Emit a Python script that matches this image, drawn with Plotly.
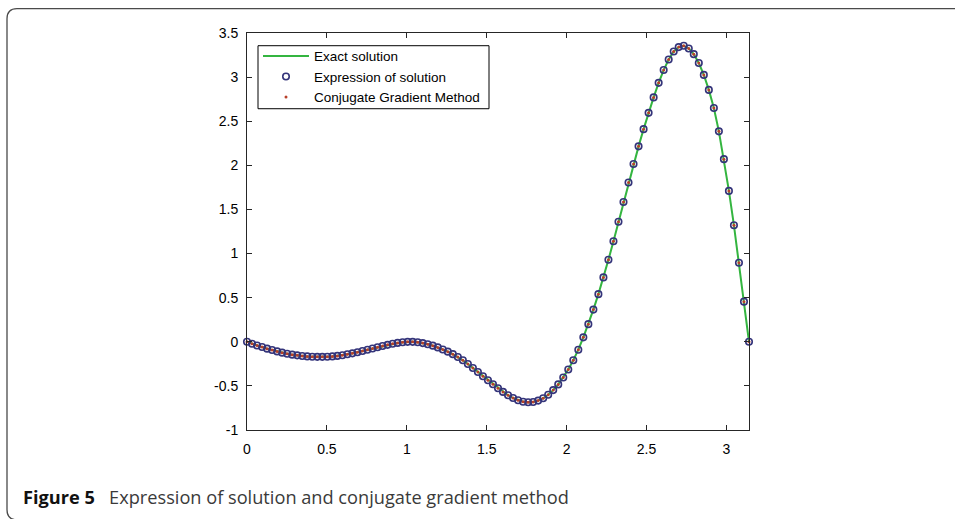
import numpy as np
import plotly.graph_objects as go

# ---- data ----
x_vals = np.linspace(0, np.pi, 101)
u_vals = [
    0.000, -0.023, -0.042, -0.060, -0.078, -0.094, -0.109, -0.123, -0.135, -0.146,
    -0.154, -0.161, -0.166, -0.169, -0.171, -0.171, -0.170, -0.166, -0.160, -0.152,
    -0.142, -0.131, -0.118, -0.105, -0.091, -0.076, -0.062, -0.048, -0.035, -0.023,
    -0.013, -0.005, -0.001, -0.001, -0.006, -0.015, -0.028, -0.044, -0.064, -0.087,
    -0.112, -0.140, -0.172, -0.210, -0.252, -0.297, -0.343, -0.390, -0.436, -0.481,
    -0.526, -0.568, -0.606, -0.638, -0.663, -0.679, -0.686, -0.682, -0.667, -0.640,
    -0.601, -0.548, -0.483, -0.405, -0.315, -0.210, -0.090, 0.050, 0.200, 0.365,
    0.540, 0.730, 0.930, 1.140, 1.360, 1.585, 1.805, 2.015, 2.215, 2.410,
    2.595, 2.770, 2.935, 3.080, 3.200, 3.290, 3.340, 3.355, 3.325, 3.260,
    3.160, 3.025, 2.855, 2.650, 2.385, 2.070, 1.710, 1.320, 0.895, 0.455,
    0.000,
]
series_names = ["Exact solution", "Expression of solution", "Conjugate Gradient Method"]
x_ticks = [0, 0.5, 1, 1.5, 2, 2.5, 3]
x_ticktext = ["0", "0.5", "1", "1.5", "2", "2.5", "3"]
y_ticks = [-1, -0.5, 0, 0.5, 1, 1.5, 2, 2.5, 3, 3.5]
y_ticktext = ["-1", "-0.5", "0", "0.5", "1", "1.5", "2", "2.5", "3", "3.5"]
caption_bold = "Figure 5"
caption_text = "Expression of solution and conjugate gradient method"

# ---- layout geometry (pixels) ----
W, H = 955, 519
L, R, T, B = 247, 749, 33.3, 430.2


def px(xp):
    return (xp - L) / (R - L)


def py(yp):
    return (B - yp) / (B - T)


fig = go.Figure()
fig.add_trace(go.Scatter(
    x=x_vals, y=u_vals, mode="lines", name=series_names[0],
    line=dict(color="#34b540", width=2), cliponaxis=False,
))
fig.add_trace(go.Scatter(
    x=x_vals, y=u_vals, mode="markers", name=series_names[1],
    marker=dict(symbol="circle-open", size=6.5, color="#34347a", line=dict(width=1.6, color="#34347a")),
    cliponaxis=False,
))
fig.add_trace(go.Scatter(
    x=x_vals, y=u_vals, mode="markers", name=series_names[2],
    marker=dict(symbol="circle", size=3, color="#b8402a"),
    cliponaxis=False,
))

axis_common = dict(
    showline=True, linecolor="#262626", linewidth=1, mirror="ticks",
    ticks="inside", ticklen=5, tickcolor="#262626", tickwidth=1,
    showgrid=False, zeroline=False,
    tickfont=dict(family="Liberation Sans, Arial, sans-serif", size=14, color="#000000"),
)

fig.update_xaxes(range=[0, np.pi], tickvals=x_ticks, ticktext=x_ticktext,
                 ticklabelstandoff=6, **axis_common)
fig.update_yaxes(range=[-1, 3.5], tickvals=y_ticks, ticktext=y_ticktext,
                 ticklabelstandoff=5, **axis_common)

# card frame with rounded top-left corner
frame = (f"M {px(960)},{py(9)} L {px(17)},{py(9)} Q {px(7)},{py(9)} {px(7)},{py(19)} "
         f"L {px(7)},{py(510)} Q {px(7)},{py(520)} {px(17)},{py(520)} L {px(960)},{py(520)}")

fig.update_layout(
    width=W, height=H,
    margin=dict(l=L, r=W - R, t=T, b=H - B, pad=0),
    paper_bgcolor="white", plot_bgcolor="white",
    showlegend=True,
    legend=dict(
        x=px(258), y=py(41), xanchor="left", yanchor="top",
        bgcolor="rgba(0,0,0,0)", borderwidth=0,
        font=dict(family="Liberation Sans, Arial, sans-serif", size=13.5, color="#000000"),
        itemwidth=46, tracegroupgap=0,
    ),
    shapes=[
        dict(type="path", xref="paper", yref="paper", path=frame,
             line=dict(color="#4a4a4a", width=1.3)),
        dict(type="rect", xref="paper", yref="paper", layer="above",
             x0=px(258), x1=px(489), y0=py(46), y1=py(109),
             fillcolor="white", line=dict(color="#000000", width=1)),
    ],
    annotations=[dict(
        xref="paper", yref="paper", x=px(21), y=py(497), xanchor="left", yanchor="middle",
        showarrow=False, align="left",
        text=f"<b>{caption_bold}</b>   <span style='color:#3a3a3a'>{caption_text}</span>",
        font=dict(family="Open Sans, Noto Sans, sans-serif", size=18.2, color="#111111"),
    )],
)

fig.write_html("out.html")
